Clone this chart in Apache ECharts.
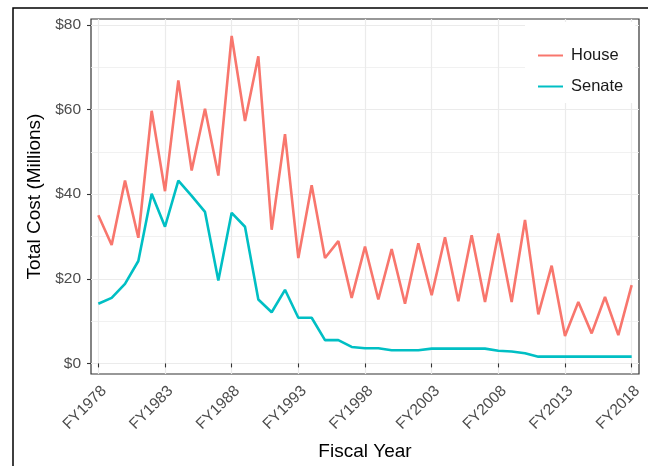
<!DOCTYPE html>
<html><head><meta charset="utf-8">
<script src="https://cdn.jsdelivr.net/npm/echarts@6/dist/echarts.min.js"></script>
<style>html,body{margin:0;padding:0;background:#fff}#c{width:648px;height:466px}</style>
</head><body><div id="c"></div>
<script>
const years = [1978,1979,1980,1981,1982,1983,1984,1985,1986,1987,1988,1989,1990,1991,1992,1993,1994,1995,1996,1997,1998,1999,2000,2001,2002,2003,2004,2005,2006,2007,2008,2009,2010,2011,2012,2013,2014,2015,2016,2017,2018];
const house = [35.0,28.0,43.2,29.7,59.7,40.7,66.9,45.6,60.2,44.4,77.4,57.3,72.6,31.6,54.2,24.9,42.1,24.9,28.9,15.5,27.6,15.1,27.0,14.1,28.4,16.1,29.8,14.7,30.3,14.5,30.7,14.5,33.9,11.6,23.1,6.5,14.5,7.1,15.7,6.7,18.5];
const senate = [14.1,15.5,18.8,24.2,40.1,32.3,43.2,39.6,35.8,19.6,35.6,32.3,15.1,12.1,17.4,10.8,10.8,5.5,5.5,3.9,3.6,3.6,3.1,3.1,3.1,3.5,3.5,3.5,3.5,3.5,3.0,2.8,2.4,1.6,1.6,1.6,1.6,1.6,1.6,1.6,1.6];
const xTickYears = [1978,1983,1988,1993,1998,2003,2008,2013,2018];
const yTickValues = [0,20,40,60,80];
const yMinorValues = [10,30,50,70];
const seriesNames = ['House','Senate'];
const colors = ['#F8766D','#00BFC4'];

const font = '"Liberation Sans", Arial, sans-serif';
const chart = echarts.init(document.getElementById('c'), null, {renderer:'canvas'});
const yBase = {
  type:'value', min:-2.5, max:81.4, position:'left',
  axisLine:{show:false}
};
chart.setOption({
  animation:false,
  textStyle:{fontFamily:font},
  grid:{left:91, right:9, top:19, bottom:89, show:true, borderColor:'#333333', borderWidth:1.2, backgroundColor:'transparent'},
  graphic:[{type:'polyline', shape:{points:[[13,466],[13,8],[648,8]]}, style:{stroke:'#000', lineWidth:1.5, fill:null}, z:100}],
  legend:{
    data:seriesNames, orient:'vertical', left:525, top:22,
    padding:[25,12,8,13], itemGap:14, itemWidth:25, itemHeight:2, icon:'rect',
    backgroundColor:'#ffffff',
    textStyle:{fontSize:16.5, color:'#1a1a1a', fontFamily:font, padding:[0,0,0,3]}
  },
  xAxis:{
    type:'value', min:1977.45, max:2018.55,
    axisLine:{show:false},
    axisTick:{show:true, length:4, customValues:xTickYears, lineStyle:{color:'#333333', width:1.1}},
    axisLabel:{customValues:xTickYears, formatter:v=>'FY'+v, rotate:45, verticalAlign:'top', color:'#4d4d4d', fontSize:15.5, margin:9, fontFamily:font},
    splitLine:{show:true, lineStyle:{color:'#ebebeb', width:1.2}},
    name:'Fiscal Year', nameLocation:'middle', nameGap:68,
    nameTextStyle:{fontSize:19, color:'#000', fontFamily:font}
  },
  yAxis:[
    Object.assign({}, yBase, {
      axisTick:{show:true, length:4, customValues:yTickValues, lineStyle:{color:'#333333', width:1.1}},
      axisLabel:{customValues:yTickValues, formatter:v=>'$'+v, color:'#4d4d4d', fontSize:15.5, margin:10, fontFamily:font},
      splitLine:{show:true, lineStyle:{color:'#ebebeb', width:1.2}},
      name:'Total Cost (Millions)', nameLocation:'middle', nameGap:46,
      nameTextStyle:{fontSize:19, color:'#000', fontFamily:font}
    }),
    Object.assign({}, yBase, {
      axisTick:{show:false, customValues:yMinorValues},
      axisLabel:{show:false, customValues:yMinorValues},
      splitLine:{show:true, lineStyle:{color:'#ededed', width:0.8}}
    })
  ],
  series:[
    {name:seriesNames[0], type:'line', yAxisIndex:0, symbol:'none', data:years.map((y,i)=>[y,house[i]]), lineStyle:{width:2.6, color:colors[0]}, itemStyle:{color:colors[0]}},
    {name:seriesNames[1], type:'line', yAxisIndex:0, symbol:'none', data:years.map((y,i)=>[y,senate[i]]), lineStyle:{width:2.6, color:colors[1]}, itemStyle:{color:colors[1]}}
  ]
});
</script></body></html>
